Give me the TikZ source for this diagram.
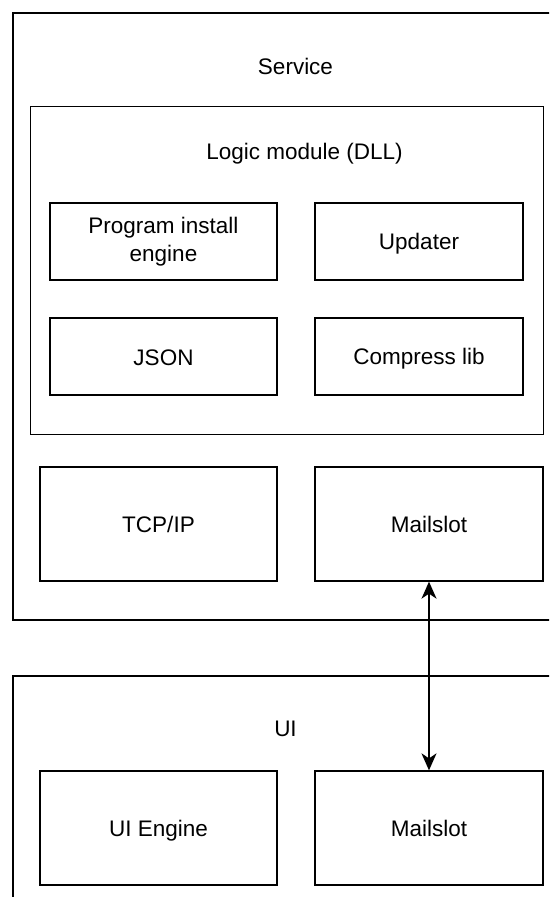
\documentclass[tikz,border=0pt]{standalone}
\usepackage{fontspec}
\setmainfont{Liberation Sans}
\usetikzlibrary{arrows.meta}
\newcommand{\capstrut}{\rule[-4pt]{0pt}{25pt}}
\begin{document}
\begin{tikzpicture}[x=1pt,y=-1pt,
  every node/.style={font=\fontsize{22.5}{28}\selectfont, text=black, inner sep=0pt},
  lbl/.style={execute at begin node=\capstrut},
  container/.style={draw=black, line width=1.8pt, anchor=north west},
  modbox/.style={draw=black, line width=1.3pt, anchor=north west},
  part/.style={draw=black, line width=1.3pt, align=center, execute at begin node=\capstrut},
  link/.style={line width=1.5pt, {Stealth[length=17pt,width=15pt,inset=5pt]}-{Stealth[length=17pt,width=15pt,inset=5pt]}}
]
\useasboundingbox (0,0) rectangle (549,897);
\clip (0,0) rectangle (549,897);
\fill[white] (0,0) rectangle (549,897);

% containers
\node[container, minimum width=560pt, minimum height=607pt] (service) at (12,12) {};
\node[lbl] (servicelbl) at (295.5,66) {Service};

\node[modbox, minimum width=513pt, minimum height=328pt] (logic) at (30,106) {};
\node[lbl] (logiclbl) at (304.5,151) {Logic module (DLL)};

\node[part, minimum width=227pt, minimum height=77pt] (install) at (163.5,241.5) {Program install\\engine};
\node[part, minimum width=208pt, minimum height=77pt] (updater) at (419,241.5) {Updater};
\node[part, minimum width=227pt, minimum height=77pt] (json) at (163.5,356.5) {JSON};
\node[part, minimum width=208pt, minimum height=77pt] (compress) at (419,356.5) {Compress lib};

\node[part, minimum width=237pt, minimum height=114pt] (tcp) at (158.5,524) {TCP/IP};
\node[part, minimum width=228pt, minimum height=114pt] (mailsvc) at (429,524) {Mailslot};

\node[container, minimum width=560pt, minimum height=260pt] (ui) at (12,675) {};
\node[lbl] (uilbl) at (285.5,728) {UI};

\node[part, minimum width=237pt, minimum height=114pt] (uiengine) at (158.5,828) {UI Engine};
\node[part, minimum width=228pt, minimum height=114pt] (mailui) at (429,828) {Mailslot};

\draw[link] (mailsvc.south) -- (mailui.north);
\end{tikzpicture}
\end{document}
